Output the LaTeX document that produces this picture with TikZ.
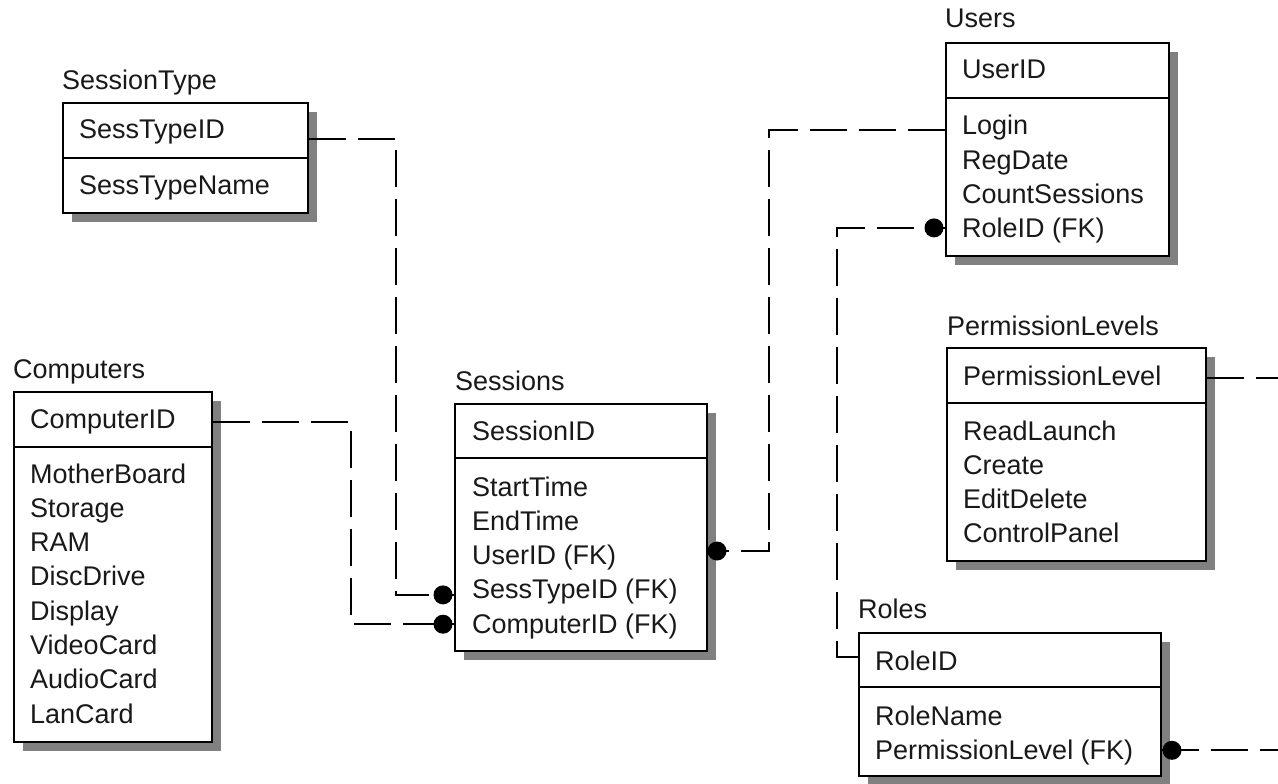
\documentclass[tikz,border=0pt]{standalone}
\usepackage{fontspec}
\setmainfont{Liberation Sans}
\usetikzlibrary{calc,shadows}
\begin{document}
\begin{tikzpicture}[x=1pt,y=-1pt,
  every node/.style={font=\fontsize{27pt}{32pt}\selectfont, inner sep=0pt, text=black!90},
  tbl/.style={draw, line width=2pt, fill=white, anchor=north west, inner sep=0pt,
    drop shadow={shadow xshift=9pt, shadow yshift=-9pt, fill=black!50, opacity=1}},
  row/.style={anchor=base west, text height=19pt, text depth=5pt},
  ttl/.style={anchor=base west},
  divider/.style={line width=2pt},
  rel/.style={line width=2pt, dash pattern=on 37pt off 12pt},
  dotc/.style={fill=black}]
\useasboundingbox (0,0) rectangle (1278,784);
\coordinate (edge) at (1278,0);

% ---------- SessionType ----------
\node[ttl] (st-t) at (62,89) {SessionType};
\node[tbl, minimum width=245pt, minimum height=110pt] (st) at (62,102) {};
\draw[divider] ($(st.north west)+(0,56)$) -- ($(st.north east)+(0,56)$);
\node[row] (stk) at (79,139) {SessTypeID};
\node[row] (st-1) at (79,194) {SessTypeName};

% ---------- Computers ----------
\node[ttl] (cp-t) at (13,378) {Computers};
\node[tbl, minimum width=198pt, minimum height=350pt] (cp) at (13,391) {};
\draw[divider] ($(cp.north west)+(0,56)$) -- ($(cp.north east)+(0,56)$);
\node[row] (cpk) at (30,428) {ComputerID};
\foreach \t [count=\i] in {MotherBoard,Storage,RAM,DiscDrive,Display,VideoCard,AudioCard,LanCard}
  \node[row] (cp-\i) at (30,{448.7+34.3*\i}) {\t};

% ---------- Sessions ----------
\node[ttl] (se-t) at (455,390) {Sessions};
\node[tbl, minimum width=252pt, minimum height=247pt] (se) at (454,403) {};
\draw[divider] ($(se.north west)+(0,55)$) -- ($(se.north east)+(0,55)$);
\node[row] (sek) at (472,440) {SessionID};
\foreach \t [count=\i] in {StartTime,EndTime,UserID (FK),SessTypeID (FK),ComputerID (FK)}
  \node[row] (se-\i) at (472,{461.7+34.3*\i}) {\t};

% ---------- Users ----------
\node[ttl] (us-t) at (945,28) {Users};
\node[tbl, minimum width=223pt, minimum height=213pt] (us) at (945,42) {};
\draw[divider] ($(us.north west)+(0,56)$) -- ($(us.north east)+(0,56)$);
\node[row] (usk) at (962,78) {UserID};
\foreach \t [count=\i] in {Login,RegDate,CountSessions,RoleID (FK)}
  \node[row] (us-\i) at (962,{100.7+34.3*\i}) {\t};

% ---------- PermissionLevels ----------
\node[ttl] (pl-t) at (947,335) {PermissionLevels};
\node[tbl, minimum width=259pt, minimum height=213pt] (pl) at (946,347) {};
\draw[divider] ($(pl.north west)+(0,56)$) -- ($(pl.north east)+(0,56)$);
\node[row] (plk) at (963,385) {PermissionLevel};
\foreach \t [count=\i] in {ReadLaunch,Create,EditDelete,ControlPanel}
  \node[row] (pl-\i) at (963,{405.7+34.3*\i}) {\t};

% ---------- Roles ----------
\node[ttl] (ro-t) at (858,618) {Roles};
\node[tbl, minimum width=302pt, minimum height=143pt] (ro) at (858,632) {};
\draw[divider] ($(ro.north west)+(0,55)$) -- ($(ro.north east)+(0,55)$);
\node[row] (rok) at (875,670) {RoleID};
\foreach \t [count=\i] in {RoleName,PermissionLevel (FK)}
  \node[row] (ro-\i) at (875,{690.7+34.3*\i}) {\t};

% ---------- relationships ----------
\coordinate (a1) at ($(st.east |- stk)+(0,7)$);
\coordinate (b1) at ($(se.west |- se-4)+(0,3)$);
\draw[rel] (a1) -- ++(87,0) |- (b1);
\fill[dotc] ($(b1)+(-11,0)$) circle[radius=9.5pt];

\coordinate (a2) at ($(cp.east |- cpk)+(0,1)$);
\coordinate (b2) at ($(se.west |- se-5)+(0,-2)$);
\draw[rel] (a2) -- ++(138,0) |- (b2);
\fill[dotc] ($(b2)+(-11,0)$) circle[radius=9.5pt];

\coordinate (a3) at ($(us.west |- us-1)+(0,2)$);
\coordinate (b3) at ($(se.east |- se-3)+(0,-6.6)$);
\draw[rel] (a3) -- ++(-176,0) |- (b3);
\fill[dotc] ($(b3)+(9,0)$) circle[radius=9.5pt];

\coordinate (a4) at ($(ro.west |- rok)+(0,-6)$);
\coordinate (b4) at ($(us.west |- us-4)+(0,-3)$);
\draw[rel] (a4) -- ++(-21,0) |- (b4);
\fill[dotc] ($(b4)+(-11,0)$) circle[radius=9.5pt];

\coordinate (a5) at (pl.east |- plk);
\draw[rel] (a5) -- (edge |- a5);

\coordinate (a6) at ($(ro.east |- ro-2)+(0,-2)$);
\draw[rel] (a6) -- (edge |- a6);
\fill[dotc] ($(a6)+(10,0)$) circle[radius=9.5pt];
\end{tikzpicture}
\end{document}
